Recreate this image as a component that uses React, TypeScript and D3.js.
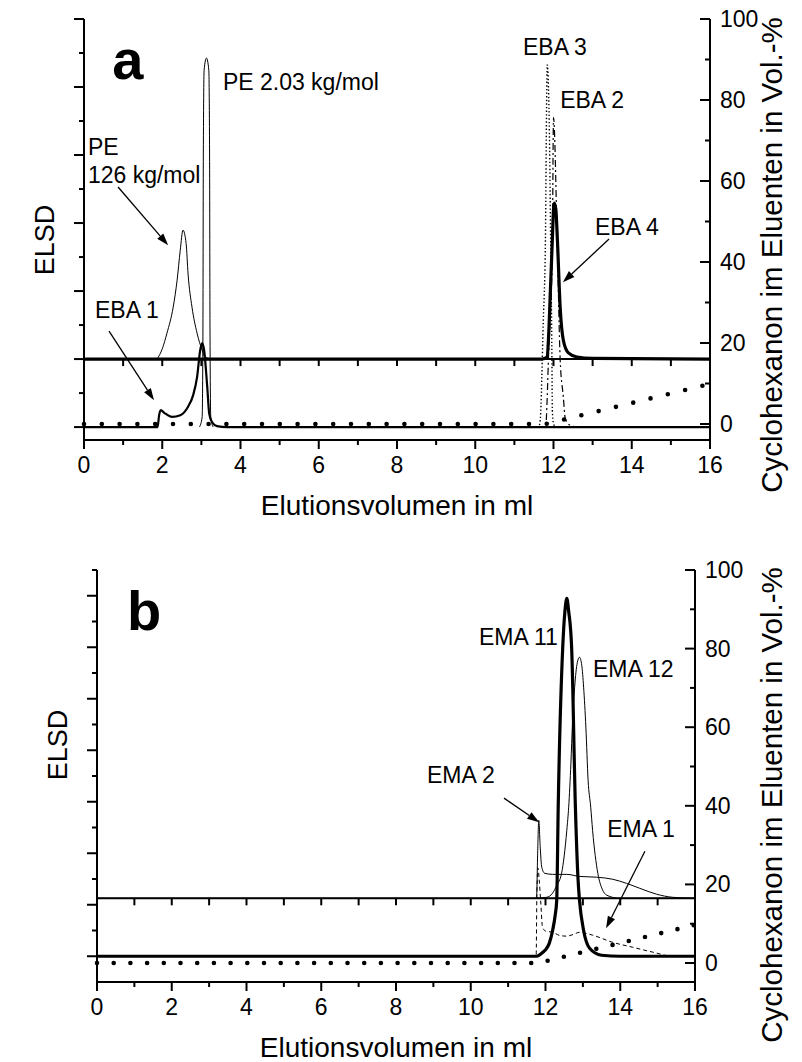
import React from "react";
import * as d3 from "d3";

type P = [number, number];

// ---------- shared tick values ----------
const xMajorTicks = [0, 2, 4, 6, 8, 10, 12, 14, 16];
const xAllTicks = d3.range(0, 17, 1);
const rightMajorTicks = [0, 20, 40, 60, 80, 100];
const rightMinorTicks = [10, 30, 50, 70, 90];
const xTitle = "Elutionsvolumen in ml";
const leftTitle = "ELSD";
const rightTitle = "Cyclohexanon im Eluenten in Vol.-%";

// ---------- panel a data (x = ml, y = ELSD units) ----------
const pe126: P[] = [[1.87, 2], [2.0, 2.3], [2.12, 2.76], [2.28, 3.53], [2.38, 4.32], [2.46, 5.2], [2.53, 5.79], [2.61, 5.4], [2.66, 4.5], [2.76, 3.53], [2.89, 2.76], [3.02, 2.26], [3.09, 2.06], [3.3, 2.0]];
const pe203: P[] = [[2.95, 0], [3.02, 0.3], [3.04, 3], [3.05, 8], [3.07, 10.5], [3.13, 10.85], [3.19, 10.5], [3.21, 8], [3.22, 3], [3.24, 0.3], [3.3, 0]];
const eba1: P[] = [[0, 0], [1.88, 0], [1.92, 0.35], [1.96, 0.5], [2.05, 0.42], [2.25, 0.3], [2.46, 0.35], [2.66, 0.6], [2.79, 0.94], [2.89, 1.47], [2.97, 2.26], [3.02, 2.47], [3.07, 2.26], [3.15, 1.18], [3.2, 0.4], [3.27, 0.15], [3.4, 0.03], [3.65, 0], [16, 0]];
const eba2: P[] = [[11.6, 0], [11.8, 0], [11.84, 0.9], [11.87, 2.0], [11.97, 5.2], [12.0, 9.1], [12.1, 5.2], [12.17, 2.0], [12.25, 0.9], [12.3, 0.26], [12.43, 0.05], [12.6, 0]];
const eba3: P[] = [[11.4, 0], [11.62, 0], [11.66, 0.2], [11.74, 3.15], [11.79, 5.2], [11.84, 10.65], [11.89, 9.0], [11.93, 5.2], [11.96, 2.0], [11.97, 0.5], [12.0, 0.1], [12.05, 0]];
const eba4: P[] = [[0, 2], [11.7, 2], [11.84, 2.06], [11.87, 2.56], [11.92, 4], [11.97, 5.5], [12.0, 6.4], [12.02, 6.59], [12.06, 6.4], [12.1, 5.5], [12.17, 3.53], [12.25, 2.56], [12.38, 2.18], [12.6, 2.06], [13, 2.02], [16, 2]];
const gradientA: P[] = [[0, 0], [11.8, 0], [16, 9.9]];

// ---------- panel b data ----------
const ema11: P[] = [[0, 0], [11.76, 0], [11.9, 0.12], [12.0, 0.25], [12.1, 0.5], [12.19, 1.0], [12.26, 1.6], [12.3, 2.17], [12.34, 5.79], [12.46, 11.96], [12.52, 13.4], [12.57, 13.9], [12.62, 13.4], [12.7, 11.96], [12.8, 5.79], [12.87, 3.0], [12.91, 2.17], [13.02, 1.0], [13.18, 0.31], [13.5, 0.04], [14, 0], [16, 0]];
const ema12: P[] = [[11.7, 2.25], [12.03, 2.29], [12.19, 2.45], [12.3, 2.75], [12.43, 3.22], [12.57, 4.89], [12.62, 5.79], [12.68, 7.5], [12.72, 9.0], [12.78, 10.45], [12.85, 11.4], [12.91, 11.61], [12.97, 11.3], [13.02, 10.45], [13.08, 8.9], [13.14, 6.83], [13.21, 5.79], [13.26, 4.89], [13.4, 3.22], [13.52, 2.6], [13.64, 2.37], [13.98, 2.25], [16, 2.25]];
const ema2: P[] = [[0, 2.25], [11.76, 2.25], [11.79, 4], [11.82, 5.28], [11.86, 4.2], [11.9, 3.46], [11.98, 3.22], [12.19, 3.18], [12.57, 3.18], [12.91, 3.1], [13.37, 3.07], [13.8, 2.99], [14.17, 2.83], [14.52, 2.64], [14.97, 2.41], [15.4, 2.29], [16, 2.25]];
const ema1: P[] = [[0, 0], [11.75, 0], [11.77, 2.5], [11.8, 3.42], [11.83, 3.0], [11.87, 2.17], [11.92, 1.13], [12.0, 0.98], [12.19, 0.93], [12.4, 0.8], [12.57, 0.78], [12.75, 0.85], [12.91, 0.93], [13.1, 0.88], [13.26, 0.82], [13.8, 0.54], [14.33, 0.35], [14.87, 0.16], [15.4, 0], [16, 0]];
const gradientB: P[] = [[0, 0], [11.8, 0], [16, 9.7]];

// ---------- annotations (data coordinates) ----------
type Label = { text: string; x: number; y: number };
type ArrowD = { from: P; to: P };
const labelsA: Label[] = [
  { text: "PE 2.03 kg/mol", x: 3.55, y: 9.91 },
  { text: "PE", x: 0.1, y: 8.0 },
  { text: "126 kg/mol", x: 0.1, y: 7.18 },
  { text: "EBA 1", x: 0.28, y: 3.21 },
  { text: "EBA 3", x: 11.22, y: 10.94 },
  { text: "EBA 2", x: 12.17, y: 9.38 },
  { text: "EBA 4", x: 13.06, y: 5.65 },
];
const arrowsA: ArrowD[] = [
  { from: [0.87, 7.06], to: [2.15, 5.35] },
  { from: [0.64, 2.82], to: [1.79, 0.79] },
  { from: [13.42, 5.53], to: [12.24, 4.26] },
];
const labelsB: Label[] = [
  { text: "EMA 11", x: 10.22, y: 12.08 },
  { text: "EMA 12", x: 13.27, y: 10.83 },
  { text: "EMA 2", x: 8.83, y: 6.72 },
  { text: "EMA 1", x: 13.65, y: 4.62 },
];
const arrowsB: ArrowD[] = [
  { from: [10.89, 6.14], to: [11.83, 5.2] },
  { from: [14.66, 4.08], to: [13.62, 1.09] },
];

const FONT = "'Liberation Sans', Arial, Helvetica, sans-serif";

type Style = "thick" | "medium" | "thin" | "dotted" | "dashdot" | "dashed";
const styles: Record<Style, { w: number; dash?: string }> = {
  thick: { w: 3.2 },
  medium: { w: 2.2 },
  thin: { w: 1 },
  dotted: { w: 1.4, dash: "1.4 2.2" },
  dashdot: { w: 1.2, dash: "7 3 2 3" },
  dashed: { w: 1, dash: "4 3" },
};

type Series = { data: P[]; style: Style };

type PanelCfg = {
  xr: [number, number];
  yr: [number, number];
  leftDom: [number, number];
  rightDom: [number, number];
  leftTicks: number[];
  midVal: number;
  series: Series[];
  gradient: P[];
  labels: Label[];
  arrows: ArrowD[];
  letter: string;
  letterPos: P;
  dotGap: number;
  leftTitleY: number;
  rightTitleY: number;
};

function Arrow({ x1, y1, x2, y2 }: { x1: number; y1: number; x2: number; y2: number }) {
  const a = Math.atan2(y2 - y1, x2 - x1);
  const L = 12, W = 4;
  const bx = x2 - L * Math.cos(a), by = y2 - L * Math.sin(a);
  const pts = [
    [x2, y2],
    [bx + W * Math.sin(a), by - W * Math.cos(a)],
    [bx - W * Math.sin(a), by + W * Math.cos(a)],
  ];
  return (
    <g>
      <line x1={x1} y1={y1} x2={bx} y2={by} stroke="#000" strokeWidth={1.3} />
      <polygon points={pts.map((p) => p.join(",")).join(" ")} fill="#000" />
    </g>
  );
}

function Panel({ cfg }: { cfg: PanelCfg }) {
  const x = d3.scaleLinear().domain([0, 16]).range(cfg.xr);
  const yl = d3.scaleLinear().domain(cfg.leftDom).range(cfg.yr);
  const yr = d3.scaleLinear().domain(cfg.rightDom).range(cfg.yr);
  const line = d3.line<P>().x((d) => x(d[0])).y((d) => yl(d[1])).curve(d3.curveMonotoneX);
  const gline = d3.line<P>().x((d) => x(d[0])).y((d) => yr(d[1]));
  const [x0, x1] = cfg.xr;
  const [yb, yt] = cfg.yr;
  const midY = yl(cfg.midVal);
  const aw = 2;
  return (
    <g fontFamily={FONT} fill="#000">
      {cfg.series.map((s, i) => (
        <path key={i} d={line(s.data) || ""} fill="none" stroke="#000" strokeWidth={styles[s.style].w} strokeDasharray={styles[s.style].dash} strokeLinejoin="round" />
      ))}
      <path d={gline(cfg.gradient) || ""} fill="none" stroke="#000" strokeWidth={4.6} strokeLinecap="round" strokeDasharray={`0 ${cfg.dotGap}`} />
      {/* mid axis */}
      <line x1={x0} x2={x1} y1={midY} y2={midY} stroke="#000" strokeWidth={aw} />
      {xAllTicks.map((t) => (
        <line key={"m" + t} x1={x(t)} x2={x(t)} y1={midY} y2={midY + 7} stroke="#000" strokeWidth={aw} />
      ))}
      {/* frame axes */}
      <line x1={x0} x2={x0} y1={yt} y2={yb} stroke="#000" strokeWidth={aw} />
      <line x1={x1} x2={x1} y1={yt} y2={yb} stroke="#000" strokeWidth={aw} />
      <line x1={x0 - 1} x2={x1 + 1} y1={yb} y2={yb} stroke="#000" strokeWidth={aw} />
      {cfg.leftTicks.map((t) => (
        <line key={"l" + t} x1={x0} x2={x0 - (t % 2 === 0 ? 10 : 5)} y1={yl(t)} y2={yl(t)} stroke="#000" strokeWidth={aw} />
      ))}
      {rightMajorTicks.map((t) => (
        <g key={"r" + t}>
          <line x1={x1} x2={x1 - 10} y1={yr(t)} y2={yr(t)} stroke="#000" strokeWidth={aw} />
          <text x={x1 + 10} y={yr(t)} dominantBaseline="central" fontSize={23}>{t}</text>
        </g>
      ))}
      {rightMinorTicks.map((t) => (
        <line key={"rm" + t} x1={x1} x2={x1 - 5} y1={yr(t)} y2={yr(t)} stroke="#000" strokeWidth={aw} />
      ))}
      {xAllTicks.map((t) => (
        <line key={"b" + t} x1={x(t)} x2={x(t)} y1={yb} y2={yb + (t % 2 === 0 ? 9 : 5)} stroke="#000" strokeWidth={aw} />
      ))}
      {xMajorTicks.map((t) => (
        <text key={"bl" + t} x={x(t)} y={yb + 25} textAnchor="middle" dominantBaseline="central" fontSize={23}>{t}</text>
      ))}
      <text x={(x0 + x1) / 2} y={yb + 75} textAnchor="middle" fontSize={28}>{xTitle}</text>
      <text transform={`translate(${x0 - 30},${cfg.leftTitleY}) rotate(-90)`} textAnchor="middle" fontSize={27}>{leftTitle}</text>
      <text transform={`translate(771,${cfg.rightTitleY}) rotate(-90)`} textAnchor="middle" dominantBaseline="central" fontSize={29.5}>{rightTitle}</text>
      {cfg.labels.map((l, i) => (
        <text key={"t" + i} x={x(l.x)} y={yl(l.y)} fontSize={23}>{l.text}</text>
      ))}
      {cfg.arrows.map((a, i) => (
        <Arrow key={"a" + i} x1={x(a.from[0])} y1={yl(a.from[1])} x2={x(a.to[0])} y2={yl(a.to[1])} />
      ))}
      <text x={x(cfg.letterPos[0])} y={yl(cfg.letterPos[1])} fontSize={56} fontWeight="bold">{cfg.letter}</text>
    </g>
  );
}

const panelA: PanelCfg = {
  xr: [84, 710],
  yr: [440, 19],
  leftDom: [-0.38, 12],
  rightDom: [-3.95, 100],
  leftTicks: d3.range(0, 13),
  midVal: 2,
  series: [
    { data: pe126, style: "thin" },
    { data: pe203, style: "thin" },
    { data: eba1, style: "medium" },
    { data: eba3, style: "dotted" },
    { data: eba2, style: "dashdot" },
    { data: eba4, style: "thick" },
  ],
  gradient: gradientA,
  labels: labelsA,
  arrows: arrowsA,
  letter: "a",
  letterPos: [0.72, 10.24],
  dotGap: 17.8,
  leftTitleY: 240,
  rightTitleY: 255,
};

const panelB: PanelCfg = {
  xr: [97, 695],
  yr: [982, 570],
  leftDom: [-1, 15],
  rightDom: [-4.83, 100],
  leftTicks: d3.range(0, 16),
  midVal: 2.25,
  series: [
    { data: ema1, style: "dashed" },
    { data: ema2, style: "thin" },
    { data: ema12, style: "thin" },
    { data: ema11, style: "thick" },
  ],
  gradient: gradientB,
  labels: labelsB,
  arrows: arrowsB,
  letter: "b",
  letterPos: [0.8, 12.66],
  dotGap: 16.7,
  leftTitleY: 745,
  rightTitleY: 805,
};

export default function App() {
  return (
    <svg width={802} height={1062} style={{ position: "absolute", left: 0, top: 0, background: "#fff" }}>
      <rect width={802} height={1062} fill="#fff" />
      <Panel cfg={panelA} />
      <Panel cfg={panelB} />
    </svg>
  );
}
